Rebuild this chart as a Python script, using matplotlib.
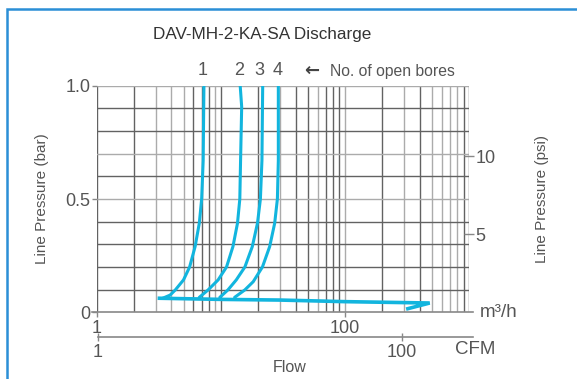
import numpy as np
import matplotlib
matplotlib.use("Agg")
import matplotlib.pyplot as plt
from matplotlib.patches import Rectangle

plt.rcParams['font.family'] = ['Liberation Sans', 'DejaVu Sans']

# data (flow in m3/h, pressure in bar)
flow_1 = [3.4, 3.9, 4.3, 5.0, 5.6, 6.2, 6.7, 7.0, 7.2, 7.3]
bar_1 = [0.062, 0.076, 0.099, 0.143, 0.20, 0.29, 0.393, 0.50, 0.67, 1.0]
flow_2 = [6.7, 7.9, 9.5, 11.1, 12.5, 13.6, 14.2, 14.4, 14.7, 14.3]
bar_2 = [0.066, 0.099, 0.143, 0.20, 0.29, 0.393, 0.50, 0.67, 0.907, 1.0]
flow_3 = [9.8, 11.4, 13.3, 15.6, 17.9, 19.7, 20.8, 21.4, 21.7]
bar_3 = [0.066, 0.099, 0.143, 0.20, 0.29, 0.393, 0.50, 0.67, 1.0]
flow_4 = [12.9, 15.6, 18.2, 21.6, 24.7, 27.1, 28.5, 29.0, 29.0]
bar_4 = [0.066, 0.099, 0.135, 0.20, 0.29, 0.393, 0.50, 0.67, 1.0]
# the zero-pressure line with its hook at the end
flow_base = [3.2, 10, 30, 100, 480, 320]
bar_base = [0.062, 0.057, 0.054, 0.047, 0.041, 0.016]

bores = ['1', '2', '3', '4']
bore_flow = [7.1, 14.0, 20.5, 28.5]
bar_ticks = [0, 0.5, 1.0]
bar_ticklabels = ['0', '0.5', '1.0']
psi_ticks = [5, 10]
m3h_ticks = [1, 100]
cfm_ticks = [1, 100]

TXT = '#555555'
DARK = '#626262'
LIGHT = '#ababab'
CYAN = '#12b5de'

W, H = 577, 379
fig = plt.figure(figsize=(W / 100, H / 100), dpi=100)


def fx(px):
    return px / W


def fy(py):
    return 1 - py / H


# blue frame
fig.add_artist(Rectangle((fx(7), -0.1), 1.2, fy(9) + 0.1, transform=fig.transFigure,
                         fill=False, ec='#2b8fd6', lw=1.8))

ax = fig.add_axes([fx(96.7), fy(312.3), fx(469.3 - 96.7), (312.3 - 85.7) / H])
ax.set_xscale('log')
ax.set_xlim(1, 1000)
ax.set_ylim(0, 1.0)

# grid
dark_digits = {1: [2, 6, 7, 8], 10: [2, 4, 5, 7, 8, 9], 100: [2, 4, 9]}
for dec in [1, 10, 100]:
    for d in range(2, 10):
        c = DARK if d in dark_digits[dec] else LIGHT
        ax.axvline(d * dec, color=c, lw=1.0, zorder=1)
ax.axvline(10, color=DARK, lw=1.0, zorder=1)
ax.axvline(100, color=LIGHT, lw=1.0, zorder=1)
ax.axvline(1000, color=DARK, lw=1.0, zorder=1)
ax.axvline(1, color=DARK, lw=1.0, zorder=1)
for i in range(1, 11):
    v = i / 10
    c = LIGHT if i in (5, 7, 10) else DARK
    ax.axhline(v, color=c, lw=1.0, zorder=1)

for s in ax.spines.values():
    s.set_visible(False)
# bottom axis line (m3/h)
ax.plot([-0.012, 1.01], [0, 0], transform=ax.transAxes, color='#888888', lw=1.2,
        clip_on=False, zorder=2)

ax.set_yticks(bar_ticks)
ax.set_yticklabels(bar_ticklabels)
ax.set_xticks(m3h_ticks)
ax.set_xticklabels([str(t) for t in m3h_ticks])
ax.xaxis.set_minor_locator(plt.NullLocator())
ax.tick_params(axis='both', colors='#888888', labelcolor=TXT, labelsize=13, length=3.5, width=1)
ax.tick_params(axis='x', pad=2)
ax.tick_params(axis='y', pad=1)
ax.set_ylabel('Line Pressure (bar)', color=TXT, fontsize=11, labelpad=12)

# curves
for fl, br in [(flow_1, bar_1), (flow_2, bar_2), (flow_3, bar_3), (flow_4, bar_4)]:
    ax.plot(fl, br, color=CYAN, lw=2.2, zorder=3, solid_capstyle='round')
ax.plot(flow_base, bar_base, color=CYAN, lw=2.6, zorder=3, solid_joinstyle='miter')

for lab, f in zip(bores, bore_flow):
    ax.text(f, 1.028, lab, ha='center', va='bottom', color=TXT, fontsize=13)
ax.text(46.5, 1.025, '\u2190', ha='left', va='bottom', color='#444444', fontsize=13,
        family='DejaVu Sans', fontweight='bold')
ax.text(75.2, 1.028, 'No. of open bores', ha='left', va='bottom', color=TXT, fontsize=11.3)

ax.text(1.027, 0, 'm\u00b3/h', transform=ax.transAxes, ha='left', va='center',
        color=TXT, fontsize=13.5)

# psi axis on the right
axr = ax.twinx()
axr.set_ylim(0, 14.5038)
for s in axr.spines.values():
    s.set_visible(False)
axr.set_yticks(psi_ticks)
axr.set_yticklabels([str(t) for t in psi_ticks])
axr.tick_params(axis='y', direction='inout', length=7, width=1, colors='#888888',
                labelcolor=TXT, labelsize=13, pad=1)
axr.set_ylabel('Line Pressure (psi)', color=TXT, fontsize=11, labelpad=28)

# CFM axis below
cfm_left, cfm_right = 97.7, 473
axc = fig.add_axes([fx(cfm_left), fy(337.3), fx(cfm_right - cfm_left), 0.0001])
axc.set_xscale('log')
axc.set_xlim(1, 10 ** ((cfm_right - cfm_left) / 152.0))
axc.set_yticks([])
for k in ['top', 'left', 'right']:
    axc.spines[k].set_visible(False)
axc.spines['bottom'].set_color('#888888')
axc.spines['bottom'].set_linewidth(1.2)
axc.set_xticks(cfm_ticks)
axc.set_xticklabels([str(t) for t in cfm_ticks])
axc.xaxis.set_minor_locator(plt.NullLocator())
axc.tick_params(axis='x', direction='inout', length=6, width=1, colors='#888888',
                labelcolor=TXT, labelsize=13, pad=2)
axc.patch.set_visible(False)

fig.text(fx(475), fy(349), 'CFM', ha='center', va='center', color=TXT, fontsize=13.5)
fig.text(fx(290), fy(368), 'Flow', ha='center', va='center', color=TXT, fontsize=11.5)
fig.text(fx(262), fy(35), 'DAV-MH-2-KA-SA Discharge', ha='center', va='center',
         color='#333333', fontsize=12.3)

fig.savefig('out.png', dpi=100)
